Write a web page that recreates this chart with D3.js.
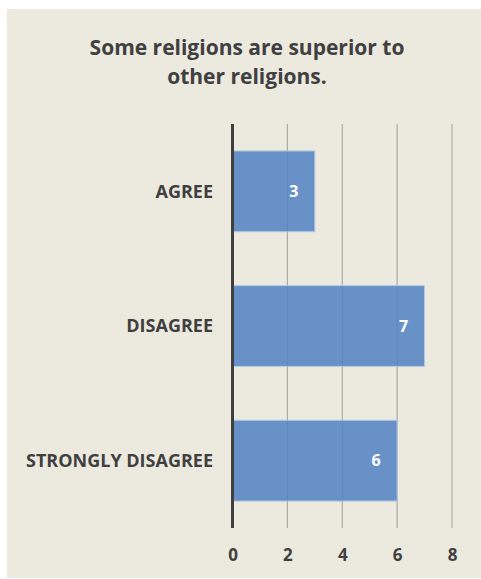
<!DOCTYPE html>
<html>
<head>
<meta charset="utf-8">
<script src="https://cdn.jsdelivr.net/npm/d3@7"></script>
<style>
  body { margin: 0; background: #ffffff; }
  svg { display: block; }
</style>
</head>
<body>
<div id="chart"></div>
<script>
// data
var categories = ["AGREE", "DISAGREE", "STRONGLY DISAGREE"];
var values = [3, 7, 6];
var xTicks = [0, 2, 4, 6, 8];
var titleLines = ["Some religions are superior to", "other religions."];

var W = 481, H = 579;
var font = "'Open Sans', sans-serif";

var svg = d3.select("#chart").append("svg")
    .attr("width", W)
    .attr("height", H);

// panel background
svg.append("rect")
    .attr("x", 7).attr("y", 9)
    .attr("width", W - 7).attr("height", 569)
    .attr("fill", "#ece9df");

// title
svg.append("text")
    .attr("x", 247)
    .attr("y", 55)
    .attr("text-anchor", "middle")
    .style("font-family", font)
    .style("font-weight", "bold")
    .style("font-size", "21px")
    .style("fill", "#404040")
    .selectAll("tspan")
    .data(titleLines).enter()
    .append("tspan")
    .attr("x", 247)
    .attr("dy", function (d, i) { return i === 0 ? 0 : 28.5; })
    .text(function (d) { return d; });

// scales
var x = d3.scaleLinear().domain([0, 8]).range([232.5, 452]);
var y = d3.scaleBand()
    .domain(categories)
    .range([124, 528])
    .paddingInner(0.4)
    .paddingOuter(0.2);

// gridlines
svg.selectAll(".grid")
    .data(xTicks.slice(1)).enter()
    .append("line")
    .attr("x1", function (d) { return x(d); })
    .attr("x2", function (d) { return x(d); })
    .attr("y1", 124).attr("y2", 528)
    .attr("stroke", "#a29f99")
    .attr("stroke-width", 1);

// bars
var data = categories.map(function (c, i) { return {cat: c, val: values[i]}; });

svg.selectAll(".bar")
    .data(data).enter()
    .append("rect")
    .attr("x", x(0))
    .attr("y", function (d) { return y(d.cat); })
    .attr("width", function (d) { return x(d.val) - x(0); })
    .attr("height", y.bandwidth())
    .attr("fill", "#5183c3")
    .attr("fill-opacity", 0.85)
    .attr("stroke", "#b3c9e6")
    .attr("stroke-width", 1);

// value labels
svg.selectAll(".val")
    .data(data).enter()
    .append("text")
    .attr("x", function (d) { return x(d.val) - 21; })
    .attr("y", function (d) { return y(d.cat) + y.bandwidth() / 2; })
    .attr("dy", "0.36em")
    .attr("text-anchor", "middle")
    .style("font-family", font)
    .style("font-weight", "bold")
    .style("font-size", "16px")
    .style("fill", "#ffffff")
    .text(function (d) { return d.val; });

// category labels
svg.selectAll(".cat")
    .data(categories).enter()
    .append("text")
    .attr("x", 213)
    .attr("y", function (d) { return y(d) + y.bandwidth() / 2; })
    .attr("dy", "0.36em")
    .attr("text-anchor", "end")
    .style("font-family", font)
    .style("font-weight", "bold")
    .style("font-size", "18px")
    .style("fill", "#404040")
    .text(function (d) { return d; });

// vertical axis line
svg.append("line")
    .attr("x1", x(0)).attr("x2", x(0))
    .attr("y1", 124).attr("y2", 528)
    .attr("stroke", "#3f3f3f")
    .attr("stroke-width", 3);

// x axis tick labels
var xAxis = d3.axisBottom(x).tickValues(xTicks).tickSize(0).tickPadding(0);
var gx = svg.append("g")
    .attr("transform", "translate(0,549)")
    .call(xAxis);
gx.select(".domain").remove();
gx.selectAll("text")
    .style("font-family", font)
    .style("font-weight", "bold")
    .style("font-size", "17px")
    .style("fill", "#404040");
</script>
</body>
</html>
